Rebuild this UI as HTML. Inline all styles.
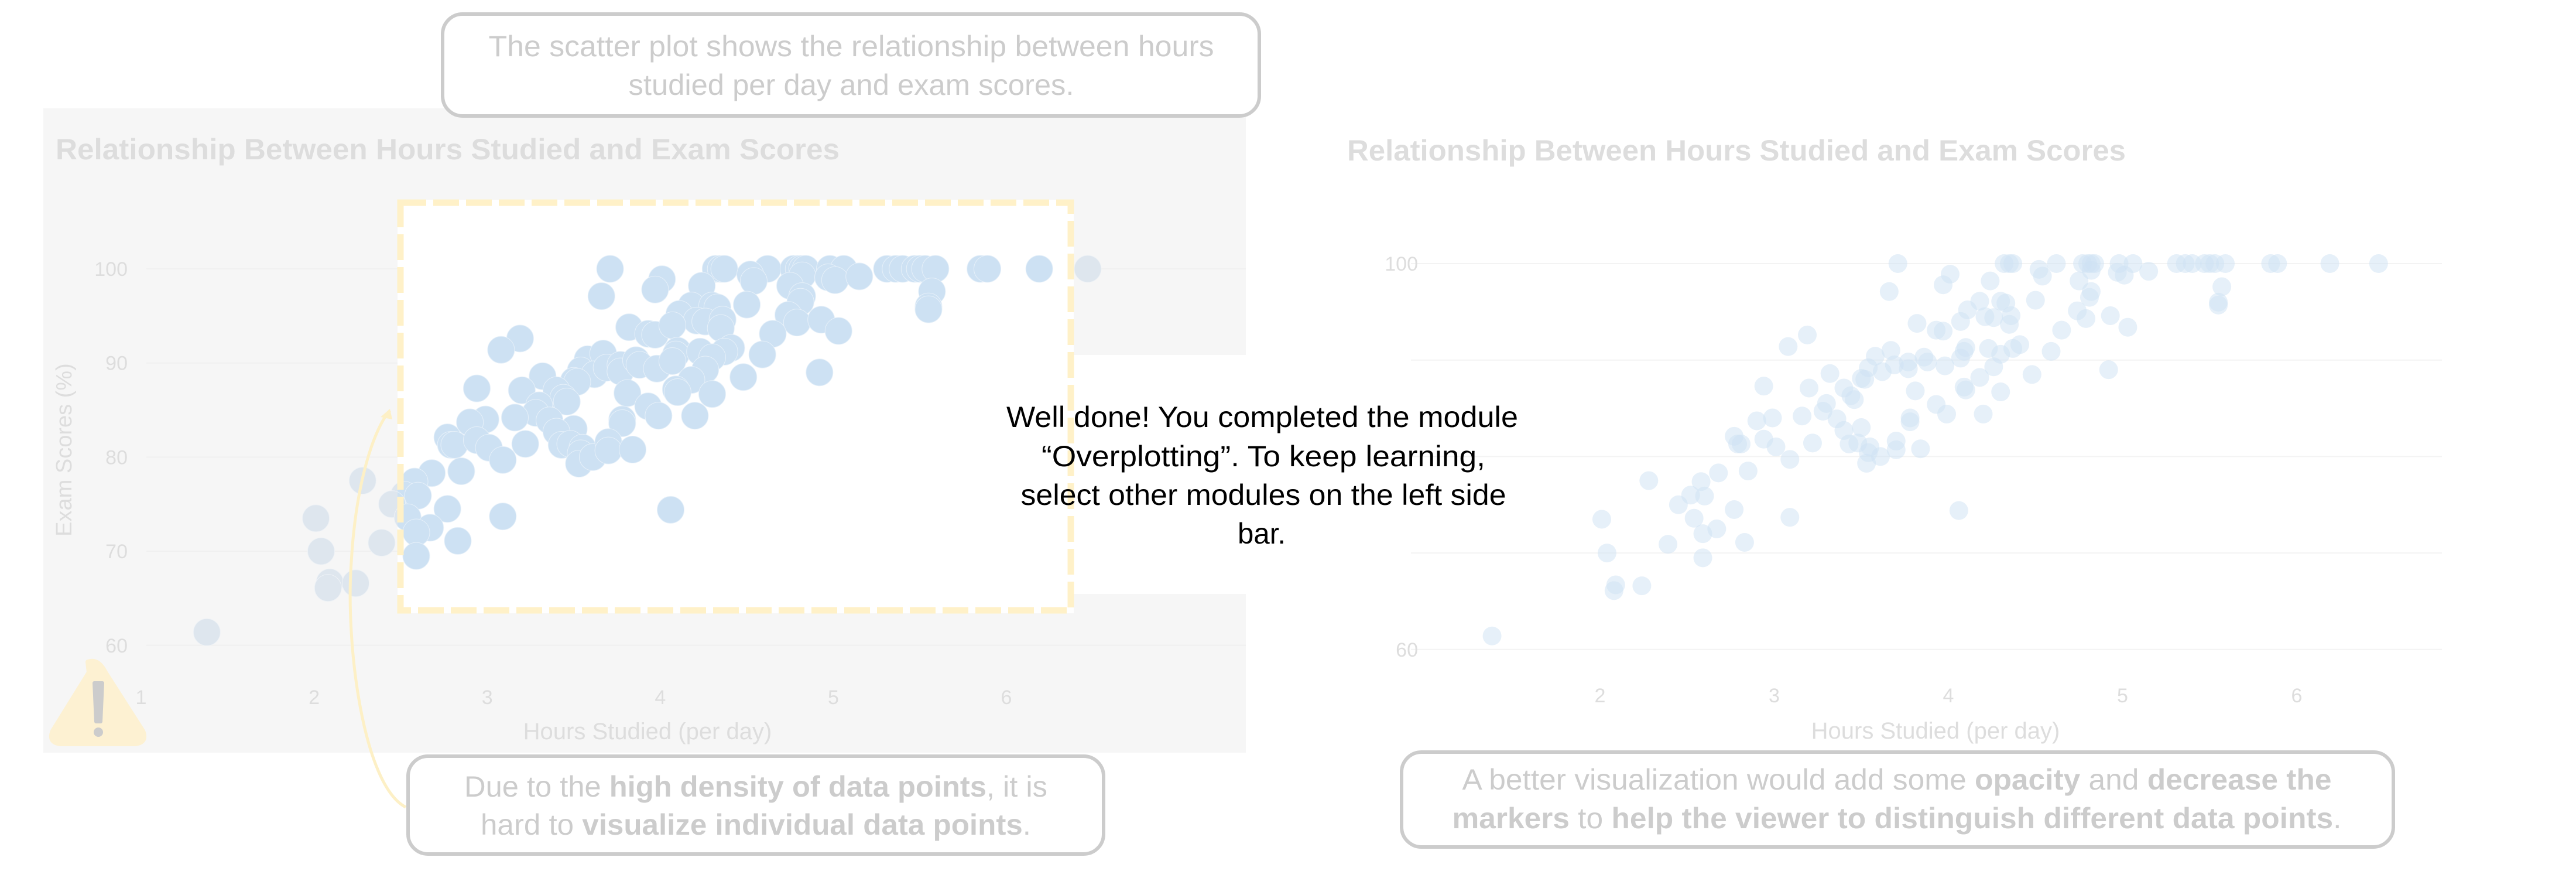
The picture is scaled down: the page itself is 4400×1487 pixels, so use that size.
<!DOCTYPE html>
<html><head><meta charset="utf-8"><style>
html,body{margin:0;padding:0;background:#fff;}
svg{display:block;font-family:"Liberation Sans Narrow","Liberation Sans",sans-serif;}
</style></head><body>
<svg id="root" width="4400" height="1487" viewBox="0 0 4400 1487">
  <defs>
    <clipPath id="hl"><rect x="679" y="341" width="1155" height="706"/></clipPath>
  </defs>
  <rect x="74" y="185" width="2054" height="1100" fill="#f6f6f6"/>
  <text x="95" y="272" font-size="50" font-weight="bold" fill="#dddddd" textLength="1339" lengthAdjust="spacingAndGlyphs">Relationship Between Hours Studied and Exam Scores</text>
  <g id="leftGrid"></g>
  <g id="leftFaded"></g>
  <rect x="679" y="341" width="1155" height="706" fill="#ffffff"/>
  <rect x="1686" y="606" width="1000" height="408" fill="#ffffff"/>
  <g id="leftPoints" clip-path="url(#hl)"></g>
  <rect x="684" y="346" width="1145" height="696" fill="none" stroke="#fff1c8" stroke-width="11" stroke-dasharray="44 12"/>
  <g id="leftAxes"></g>
  <text x="1106" y="1262" font-size="40" fill="#dddddd" text-anchor="middle">Hours Studied (per day)</text>
  <text x="0" y="0" font-size="38" fill="#dddddd" text-anchor="middle" transform="translate(122,768) rotate(-90)" font-family="Liberation Sans, sans-serif">Exam Scores (%)</text>

  <g>
    <path d="M150 1130 Q168 1124 180 1148 L244 1248 Q252 1268 230 1270 L104 1270 Q82 1268 90 1248 L152 1148 Z" fill="#fdf1d2" stroke="#fdf1d2" stroke-width="8" stroke-linejoin="round"/>
    <path d="M161 1166 L175 1166 L172 1232 L164 1232 Z" fill="#cccccc" stroke="#cccccc" stroke-width="6" stroke-linejoin="round"/>
    <circle cx="168" cy="1250" r="8" fill="#cccccc"/>
  </g>

  <path d="M693 1378 C 620 1340, 590 1100, 600 960 C 608 820, 640 730, 666 701" fill="none" stroke="#fdf0c6" stroke-width="5"/>
  <path d="M666 698 L650 712 L670 716 Z" fill="#fdf0c6"/>

  <rect x="756" y="24" width="1395" height="174" rx="34" fill="#ffffff" stroke="#cccccc" stroke-width="6"/>
  <text x="1454" y="96" font-size="50" fill="#cccccc" text-anchor="middle" textLength="1239" lengthAdjust="spacingAndGlyphs">The scatter plot shows the relationship between hours</text>
  <text x="1454" y="162" font-size="50" fill="#cccccc" text-anchor="middle" textLength="761" lengthAdjust="spacingAndGlyphs">studied per day and exam scores.</text>

  <rect x="697" y="1291" width="1188" height="167" rx="34" fill="#ffffff" stroke="#cccccc" stroke-width="6"/>
  <text x="1291" y="1360" font-size="50" fill="#cccccc" text-anchor="middle" textLength="996" lengthAdjust="spacingAndGlyphs">Due to the <tspan font-weight="bold">high density of data points</tspan>, it is</text>
  <text x="1291" y="1425" font-size="50" fill="#cccccc" text-anchor="middle" textLength="940" lengthAdjust="spacingAndGlyphs">hard to <tspan font-weight="bold">visualize individual data points</tspan>.</text>

  <text x="2301" y="274" font-size="50" font-weight="bold" fill="#dddddd" textLength="1330" lengthAdjust="spacingAndGlyphs">Relationship Between Hours Studied and Exam Scores</text>
  <g id="rightGrid"></g>
  <g id="rightPoints"></g>
  <g id="rightAxes"></g>
  <text x="3306" y="1261" font-size="40" fill="#dddddd" text-anchor="middle">Hours Studied (per day)</text>

  <rect x="2394" y="1284" width="1694" height="162" rx="34" fill="#ffffff" stroke="#cccccc" stroke-width="6"/>
  <text x="3240" y="1348" font-size="50" fill="#cccccc" text-anchor="middle" textLength="1485" lengthAdjust="spacingAndGlyphs">A better visualization would add some <tspan font-weight="bold">opacity</tspan> and <tspan font-weight="bold">decrease the</tspan></text>
  <text x="3240" y="1414" font-size="50" fill="#cccccc" text-anchor="middle" textLength="1519" lengthAdjust="spacingAndGlyphs"><tspan font-weight="bold">markers</tspan> to <tspan font-weight="bold">help the viewer to distinguish different data points</tspan>.</text>

  <g>
    <text x="2156" y="729" font-size="50" fill="#000" text-anchor="middle" textLength="874" lengthAdjust="spacingAndGlyphs">Well done! You completed the module</text>
    <text x="2158" y="796" font-size="50" fill="#000" text-anchor="middle" textLength="758" lengthAdjust="spacingAndGlyphs">“Overplotting”. To keep learning,</text>
    <text x="2158" y="862" font-size="50" fill="#000" text-anchor="middle" textLength="829" lengthAdjust="spacingAndGlyphs">select other modules on the left side</text>
    <text x="2155" y="928" font-size="50" fill="#000" text-anchor="middle" textLength="82" lengthAdjust="spacingAndGlyphs">bar.</text>
  </g>
</svg>
<script>
const hours = [3.71,4.01,3.97,3.66,3.82,3.93,3.97,3.19,3.08,3.32,3.58,3.67,3.54,3.62,3.69,3.77,3.77,3.86,3.88,3.98,3.50,3.52,3.40,3.44,3.46,3.20,2.94,3.81,3.93,3.99,3.30,3.28,3.36,3.16,2.99,2.90,3.78,3.78,3.50,3.40,2.77,2.79,2.81,2.94,3.01,3.22,3.43,3.48,3.55,3.54,3.53,3.61,3.70,3.70,3.84,3.09,2.85,2.68,2.28,2.58,2.52,2.60,2.45,2.77,2.54,3.09,2.01,2.67,2.59,2.39,2.83,2.04,2.59,2.09,2.08,2.24,
4.32,4.35,4.37,4.62,4.77,4.80,4.82,4.84,4.98,5.06,5.31,5.36,5.40,5.47,5.50,5.53,5.59,5.85,5.89,6.19,6.47,
4.24,4.52,4.54,4.82,4.97,5.01,5.15,4.75,4.82,4.81,5.57,5.55,5.55,4.50,4.18,4.30,4.33,4.11,4.21,4.26,4.36,4.35,4.07,4.74,4.79,4.93,5.03,4.65,4.10,4.09,4.23,4.41,4.37,4.30,4.59,4.07,4.26,4.18,4.48,4.92,4.09,4.10,4.30,4.20,4.06,1.38];
const scores = [100,98.9,97.8,97.1,93.8,93.1,93.0,92.6,91.4,88.6,90.4,91.0,89.2,88.8,89.5,89.8,89.1,90.3,89.8,89.4,88.1,88.0,87.1,86.3,85.9,87.1,87.3,86.8,85.4,84.4,85.5,84.7,83.9,84.2,84.0,83.7,84.0,83.6,83.0,82.7,82.1,81.3,81.3,81.8,81.0,81.4,81.3,81.4,81.0,80.4,79.3,80.0,81.6,80.7,80.8,79.7,78.5,78.3,77.5,77.4,76.0,75.9,75.0,74.5,73.6,73.7,73.5,72.5,72.0,70.9,71.1,70.0,69.5,66.7,66.1,66.6,
100,100,100,100,100,100,100,100,100,100,100,100,100,100,100,100,100,100,100,100,100,
98.2,99.4,98.7,99.3,99.1,98.8,99.2,98.2,97.1,96.5,97.6,96.0,95.7,96.2,96.1,96.1,95.9,95.2,94.5,94.4,94.6,93.7,94.0,95.1,94.3,94.6,93.4,93.1,91.3,90.9,91.2,91.6,91.2,90.6,90.9,90.2,89.3,88.2,88.5,89.0,87.2,86.9,86.7,84.4,74.4,61.4];
const xTicks = [1,2,3,4,5,6];
const yTicks = [60,70,80,90,100];
const xTicksRight = [2,3,4,5,6];
const yTicksRight = [60,100];

const NS = "http://www.w3.org/2000/svg";
function mk(tag, attrs, parent){const e=document.createElementNS(NS,tag);for(const k in attrs)e.setAttribute(k,attrs[k]);parent.appendChild(e);return e;}
const lx = v => 241 + (v-1)*295.6;
const ly = v => 459 + (100-v)*16.07;
const rx = v => 2733 + (v-2)*297.5;
const ry = v => 450 + (100-v)*16.47;

const lg = document.getElementById('leftGrid');
yTicks.forEach(t=>{
  const l = mk('line',{x1:250,x2:2128,y1:ly(t),y2:ly(t),stroke:'#f0f0f0','stroke-width':2},lg);
  
  
});
const la = document.getElementById('leftAxes');
yTicks.forEach(t=>{
  const e = mk('text',{x:218,y:ly(t)+12,'font-size':34,fill:'#dddddd','text-anchor':'end'},la);
  e.textContent=t;
  
  
});
xTicks.forEach(t=>{
  const e = mk('text',{x:lx(t),y:1202,'font-size':34,fill:'#dddddd','text-anchor':'middle'},la);
  e.textContent=t;
  
  
});
const lf = document.getElementById('leftFaded');
const lp = document.getElementById('leftPoints');
hours.forEach((h,i)=>{
  const a = mk('circle',{cx:lx(h),cy:ly(scores[i]),r:23,fill:'#dee6ee',stroke:'#eef2f6','stroke-width':1},lf);
  
  
  const b = mk('circle',{cx:lx(h),cy:ly(scores[i]),r:23,fill:'#cde1f3',stroke:'#e6f0f9','stroke-width':1},lp);
  
  
});

const rg = document.getElementById('rightGrid');
[60,70,80,90,100].forEach(t=>{
  const l = mk('line',{x1:2410,x2:4171,y1:ry(t),y2:ry(t),stroke:'#f3f3f3','stroke-width':2},rg);
  
  
});
const ra = document.getElementById('rightAxes');
yTicksRight.forEach(t=>{
  const e = mk('text',{x:2422,y:ry(t)+12,'font-size':34,fill:'#dddddd','text-anchor':'end'},ra);
  e.textContent=t;
  
  
});
xTicksRight.forEach(t=>{
  const e = mk('text',{x:rx(t),y:1199,'font-size':34,fill:'#dddddd','text-anchor':'middle'},ra);
  e.textContent=t;
  
  
});
const rp = document.getElementById('rightPoints');
hours.forEach((h,i)=>{
  const c = mk('circle',{cx:rx(h),cy:ry(scores[i]),r:16,fill:'#cde1f3','fill-opacity':0.5},rp);
  
  
});
</script>
</body></html>
